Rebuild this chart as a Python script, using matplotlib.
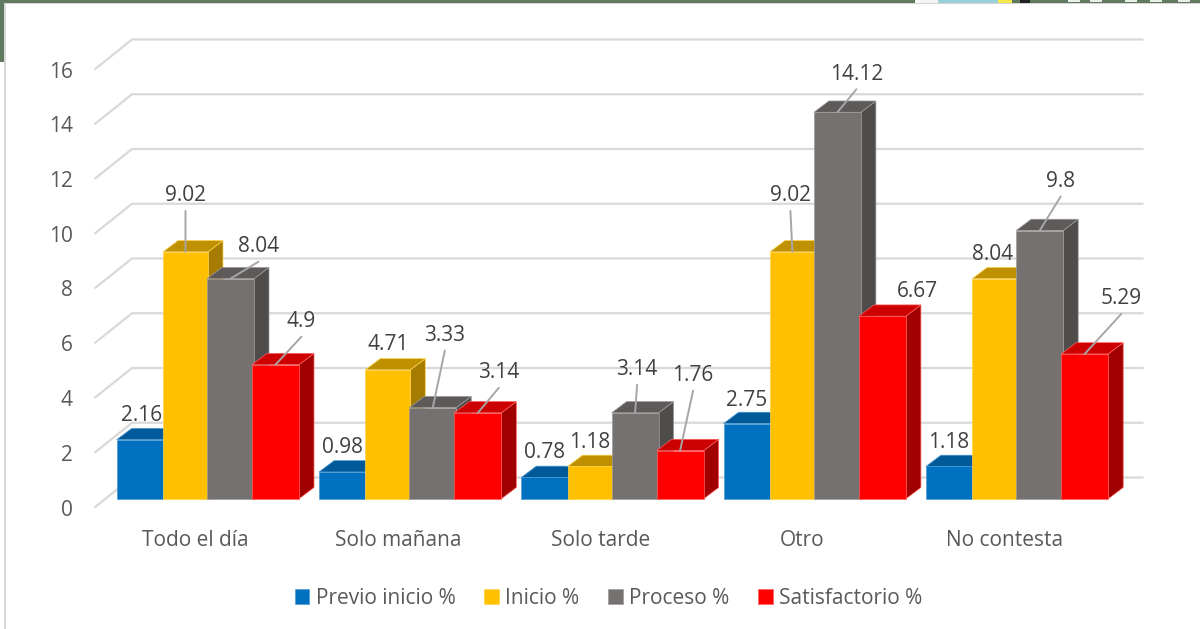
import matplotlib
matplotlib.use("Agg")
import matplotlib.pyplot as plt
from matplotlib.patches import Patch, Polygon, Rectangle

categories = ["Todo el día", "Solo mañana", "Solo tarde", "Otro", "No contesta"]
series_names = ["Previo inicio %", "Inicio %", "Proceso %", "Satisfactorio %"]
previo = [2.16, 0.98, 0.78, 2.75, 1.18]
inicio = [9.02, 4.71, 1.18, 9.02, 8.04]
proceso = [8.04, 3.33, 3.14, 14.12, 9.8]
satisfactorio = [4.9, 3.14, 1.76, 6.67, 5.29]
y_ticks = [0, 2, 4, 6, 8, 10, 12, 14, 16]
all_series = [previo, inicio, proceso, satisfactorio]

# Styles and layout
W, H = 1200, 629
FRONT = ["#0070C0", "#FFC000", "#767171", "#FF0000"]
TOP = ["#005A9A", "#BF9000", "#5E5A5A", "#CC0000"]
SIDE = ["#004F86", "#A67C00", "#4F4C4C", "#A00000"]
EDGE = ["#4F9BD6", "#FFD24D", "#A09C9C", "#FF6060"]
AX_L, AX_R, AX_Y0, AX_Y16 = 94.5, 1106.0, 507.5, 69.5
PX_X = (AX_R - AX_L) / 5
PX_Y = (AX_Y0 - AX_Y16) / 16
WALL_DX, WALL_DY = 37.5 / PX_X, 30 / PX_Y
BAR_START = [p / PX_X for p in (0, 46.3, 90.3, 135.3)]
BAR_WIDTH = [p / PX_X for p in (46.3, 45, 47, 47)]
BAR_DX, BAR_DY = 15 / PX_X, 11.3 / PX_Y
BASE_X, BASE_Y = (116.7 - AX_L - PX_X / 2) / PX_X, 8.7 / PX_Y
GRID = "#D9D9D9"
FONT = "Open Sans"
FS = 15

# Label offsets from the centre of each bar's front top edge, in pixels (x right, y up)
label_offsets = [
    [(1.5, 26), (0, 58), (28, 34), (26, 45)],
    [(0, 26.6), (0, 27), (12, 74), (21, 42)],
    [(0, 27), (0, 26), (2, 45), (13, 77)],
    [(0, 25), (-2, 58), (19, 40), (35, 27)],
    [(0, 26), (-2, 26), (21, 51), (36.5, 57)],
]

fig = plt.figure(figsize=(W / 100, H / 100), dpi=100, facecolor="white")
ax = fig.add_axes([AX_L / W, 1 - AX_Y0 / H, (AX_R - AX_L) / W, (AX_Y0 - AX_Y16) / H])
ax.set_xlim(-0.5, 4.5)
ax.set_ylim(0, 16)
ax.patch.set_visible(False)
for sp in ax.spines.values():
    sp.set_visible(False)

# Window remnants around the screenshot
def px_rect(x, y, w, h, color):
    fig.add_artist(Rectangle((x / W, 1 - (y + h) / H), w / W, h / H, transform=fig.transFigure,
                             facecolor=color, edgecolor="none", zorder=-5))

px_rect(0, 0, 1200, 3, "#5F7A5F")
px_rect(0, 0, 4, 62, "#5F7A5F")
px_rect(4, 3, 1196, 1, "#D4D4D4")
px_rect(4, 3, 1.5, 626, "#D9D9D9")
px_rect(915, 0, 23, 3, "#F5F5F5")
px_rect(938, 0, 60, 3, "#9AD0D8")
px_rect(998, 0, 14, 3, "#F4E84A")
px_rect(1020, 0, 10, 3, "#202020")
for bit in (1068, 1090, 1125, 1150, 1178):
    px_rect(bit, 0, 12, 2, "#E8EEE8")

# Gridlines: left wall diagonal and back wall
for t in y_ticks:
    ax.plot([-0.5, -0.5 + WALL_DX, 4.5 + WALL_DX], [t, t + WALL_DY, t + WALL_DY],
            color=GRID, lw=1.6, clip_on=False, zorder=1, solid_joinstyle="miter", solid_capstyle="butt")

# 3D bars, drawn left to right so each covers its neighbour's side face
z = 2
for g in range(len(categories)):
    for s, vals in enumerate(all_series):
        v = vals[g]
        x0 = g + BASE_X + BAR_START[s]
        x1 = x0 + BAR_WIDTH[s]
        y0 = BASE_Y
        y1 = BASE_Y + v
        ax.add_patch(Polygon([(x1, y0), (x1 + BAR_DX, y0 + BAR_DY), (x1 + BAR_DX, y1 + BAR_DY), (x1, y1)],
                             facecolor=SIDE[s], edgecolor=EDGE[s], lw=0.5, zorder=z, clip_on=False))
        ax.add_patch(Polygon([(x0, y1), (x1, y1), (x1 + BAR_DX, y1 + BAR_DY), (x0 + BAR_DX, y1 + BAR_DY)],
                             facecolor=TOP[s], edgecolor=EDGE[s], lw=0.5, zorder=z, clip_on=False))
        ax.bar(x0, v, BAR_WIDTH[s], bottom=y0, align="edge", color=FRONT[s], edgecolor=EDGE[s], lw=0.5,
               zorder=z + 0.5, clip_on=False)
        z += 1

# Value labels with leader lines
for g in range(len(categories)):
    for s, vals in enumerate(all_series):
        v = vals[g]
        xc = g + BASE_X + BAR_START[s] + BAR_WIDTH[s] / 2
        yc = BASE_Y + v
        dx, dy = label_offsets[g][s]
        ax.annotate(f"{v:g}", xy=(xc, yc), xytext=(dx, dy - 2), textcoords="offset pixels", ha="center",
                    va="center", fontsize=FS, family=FONT, color="#404040", zorder=200,
                    annotation_clip=False)
        if dy > 30:
            ax.annotate("", xy=(xc, yc), xytext=(dx, dy - 17), textcoords="offset pixels",
                        arrowprops=dict(arrowstyle="-", color="#A6A6A6", lw=1.4, shrinkA=0, shrinkB=0),
                        zorder=199, annotation_clip=False)

# Axes labels
ax.set_yticks(y_ticks)
ax.set_xticks(range(len(categories)))
ax.set_xticklabels(categories, family=FONT, fontsize=FS, color="#595959")
ax.set_yticklabels([str(t) for t in y_ticks], family=FONT, fontsize=FS, color="#595959")
ax.tick_params(axis="both", length=0)
ax.tick_params(axis="x", pad=16)
ax.tick_params(axis="y", pad=15.5)

handles = [Patch(facecolor=FRONT[i], edgecolor=EDGE[i], lw=0.5, label=series_names[i]) for i in range(4)]
ax.legend(handles=handles, loc="center", bbox_to_anchor=(608.5 / W, 1 - 598.5 / H),
          bbox_transform=fig.transFigure, ncol=4, frameon=False, handlelength=0.7, handleheight=0.7,
          handletextpad=0.3, columnspacing=1.39, labelcolor="#595959",
          prop={"family": FONT, "size": FS}, borderpad=0, borderaxespad=0)

fig.savefig("out.png", dpi=100, facecolor="white")
